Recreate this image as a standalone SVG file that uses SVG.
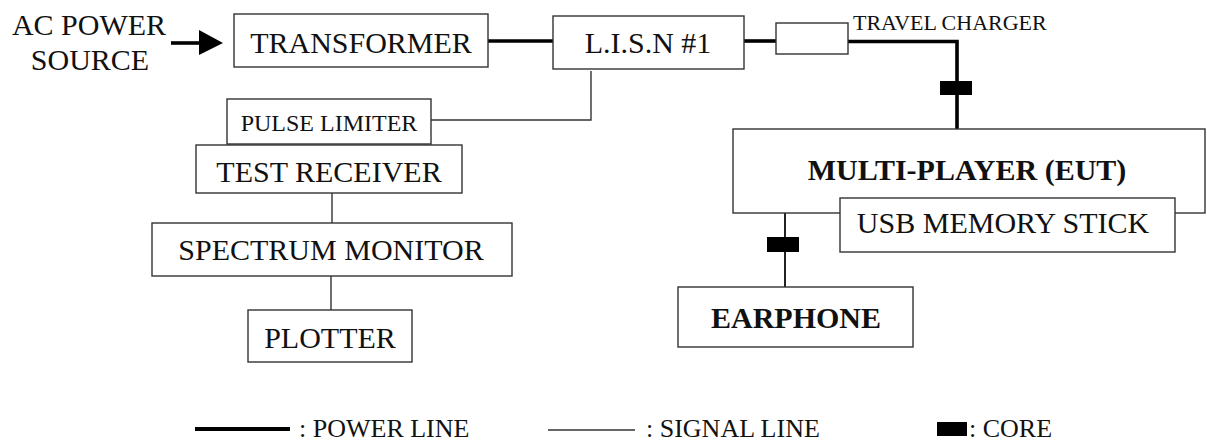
<svg xmlns="http://www.w3.org/2000/svg" width="1207" height="441" viewBox="0 0 1207 441">
  <style>
    text { font-family: "Liberation Serif", "Times New Roman", serif; fill: #111; }
    .lbl { font-size: 30px; text-anchor: middle; }
    .bold { font-weight: bold; }
    .small { font-size: 24px; }
    .tc { font-size: 22px; }
    .leg { font-size: 26px; }
    .box { fill: #fff; stroke: #333; stroke-width: 1.4; }
    .power { fill: none; stroke: #000; stroke-width: 3.6; }
    .signal { fill: none; stroke: #333; stroke-width: 1.4; }
    .ear { fill: none; stroke: #222; stroke-width: 2; }
    .core { fill: #000; }
  </style>
  <rect width="1207" height="441" fill="#fff"/>

  <!-- connectors -->
  <g id="connectors">
    <line class="power" x1="171" y1="43" x2="201" y2="43"/>
    <polygon points="199,30 223,43 199,55" fill="#000"/>
    <line class="power" x1="488" y1="41" x2="553" y2="41"/>
    <line class="power" x1="744" y1="41" x2="776" y2="41"/>
    <polyline class="power" points="848,41.5 957,41.5 957,129"/>
    <rect class="core" x="940" y="81" width="32" height="14"/>
    <polyline class="signal" points="591,71 591,120 431,120"/>
    <line class="signal" x1="332" y1="193" x2="332" y2="223"/>
    <line class="signal" x1="331" y1="276" x2="331" y2="310"/>
    <line class="ear" x1="785" y1="213" x2="785" y2="287"/>
    <rect class="core" x="767" y="237" width="32" height="15"/>
  </g>

  <g id="ac-source">
    <text class="lbl" x="89" y="35">AC POWER</text>
    <text class="lbl" x="90" y="70">SOURCE</text>
  </g>

  <g id="transformer">
    <rect class="box" x="234" y="14" width="254" height="53"/>
    <text class="lbl" x="361" y="53">TRANSFORMER</text>
  </g>

  <g id="lisn">
    <rect class="box" x="553" y="16" width="191" height="53"/>
    <text class="lbl" x="648" y="53">L.I.S.N #1</text>
  </g>

  <g id="travel-charger">
    <rect class="box" x="776" y="23" width="72" height="31"/>
    <text class="tc" x="853" y="30">TRAVEL CHARGER</text>
  </g>

  <g id="pulse-limiter">
    <rect class="box" x="227" y="99" width="204" height="45"/>
    <text class="small" x="329" y="131" text-anchor="middle">PULSE LIMITER</text>
  </g>

  <g id="test-receiver">
    <rect class="box" x="196" y="145" width="266" height="48"/>
    <text class="lbl" x="329" y="182">TEST RECEIVER</text>
  </g>

  <g id="spectrum-monitor">
    <rect class="box" x="152" y="223" width="360" height="53"/>
    <text class="lbl" x="331" y="260">SPECTRUM MONITOR</text>
  </g>

  <g id="plotter">
    <rect class="box" x="248" y="310" width="164" height="52"/>
    <text class="lbl" x="330" y="348">PLOTTER</text>
  </g>

  <g id="multi-player">
    <rect class="box" x="733" y="129" width="472" height="84"/>
    <text class="lbl bold" x="967" y="180">MULTI-PLAYER (EUT)</text>
  </g>

  <g id="usb-stick">
    <rect class="box" x="840" y="198" width="335" height="54"/>
    <text class="lbl" x="1003" y="233">USB MEMORY STICK</text>
  </g>

  <g id="earphone">
    <rect class="box" x="678" y="287" width="235" height="60"/>
    <text class="lbl bold" x="796" y="328">EARPHONE</text>
  </g>

  <g id="legend">
    <line x1="195" y1="429" x2="290" y2="429" stroke="#000" stroke-width="4"/>
    <text class="leg" x="299" y="437">: POWER LINE</text>
    <line x1="548" y1="430" x2="635" y2="430" stroke="#333" stroke-width="1.4"/>
    <text class="leg" x="646" y="437">: SIGNAL LINE</text>
    <rect class="core" x="937" y="422" width="30" height="14"/>
    <text class="leg" x="969" y="437">: CORE</text>
  </g>
</svg>
